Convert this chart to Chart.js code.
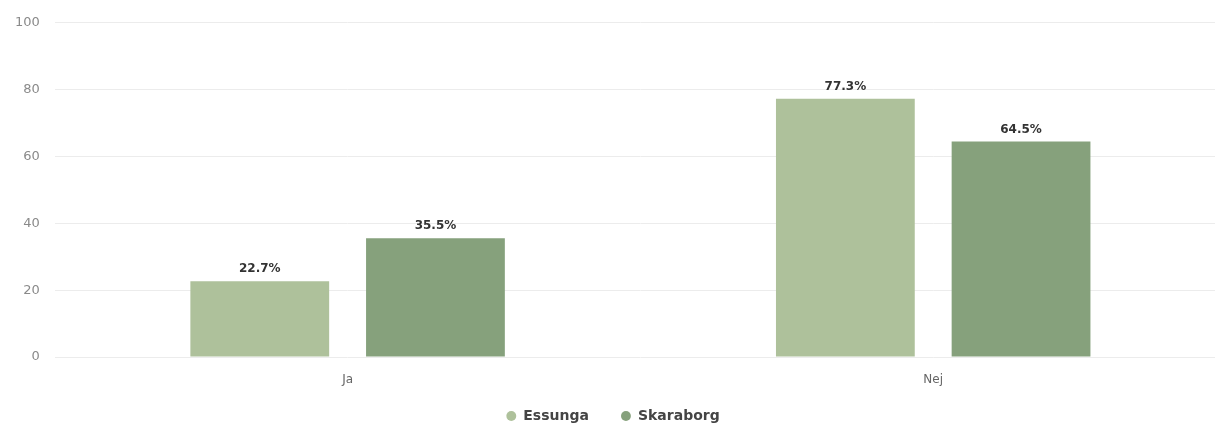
<!DOCTYPE html>
<html>
<head>
<meta charset="utf-8">
<script src="https://cdn.jsdelivr.net/npm/chart.js@4"></script>
<style>
  html, body { margin: 0; padding: 0; background: #fff; overflow: hidden; }
  #wrap { width: 1226px; height: 427px; }
</style>
</head>
<body>
<div id="wrap"><canvas id="chart"></canvas></div>
<script>
const categories = ['Ja', 'Nej'];
const seriesNames = ['Essunga', 'Skaraborg'];
const essungaValues = [22.7, 77.3];
const skaraborgValues = [35.5, 64.5];
const yTicks = [0, 20, 40, 60, 80, 100];

const colors = ['#aec19b', '#86a17c'];
const fontFamily = '"DejaVu Sans", sans-serif';

// draws the percent label above each bar
const barLabels = {
    id: 'barLabels',
    afterDatasetsDraw(chart) {
        const ctx = chart.ctx;
        ctx.save();
        ctx.font = 'bold 12px ' + fontFamily;
        ctx.fillStyle = '#333';
        ctx.textAlign = 'center';
        ctx.textBaseline = 'bottom';
        chart.data.datasets.forEach((ds, i) => {
            chart.getDatasetMeta(i).data.forEach((bar, j) => {
                ctx.fillText(ds.data[j].toFixed(1) + '%', bar.x, bar.y - 6);
            });
        });
        ctx.restore();
    }
};

// the legend needs wide gaps between items but little height,
// so lift it a bit after layout
const liftLegend = {
    id: 'liftLegend',
    afterLayout(chart) {
        chart.legend.top -= 10;
    }
};

new Chart(document.getElementById('chart'), {
    type: 'bar',
    data: {
        labels: categories,
        datasets: [
            { label: seriesNames[0], data: essungaValues, backgroundColor: colors[0] },
            { label: seriesNames[1], data: skaraborgValues, backgroundColor: colors[1] }
        ]
    },
    options: {
        responsive: true,
        maintainAspectRatio: false,
        animation: false,
        categoryPercentage: 0.6,
        barPercentage: 0.79,
        layout: { padding: { top: 8, left: 0, right: 0, bottom: 0 } },
        scales: {
            x: {
                grid: { display: false, drawTicks: false },
                border: { display: false },
                ticks: { color: '#666', font: { family: fontFamily, size: 12 }, padding: 16 },
                afterFit: axis => { axis.height = 30; }
            },
            y: {
                min: 0,
                max: 100,
                afterBuildTicks: axis => { axis.ticks = yTicks.map(v => ({ value: v })); },
                grid: { color: '#ececec', drawTicks: false },
                border: { display: false },
                ticks: { color: '#8a8a8a', font: { family: fontFamily, size: 13 }, padding: 15 }
            }
        },
        plugins: {
            legend: {
                position: 'bottom',
                maxHeight: 40,
                labels: {
                    usePointStyle: true,
                    pointStyle: 'circle',
                    boxWidth: 10,
                    boxHeight: 7,
                    padding: 32,
                    color: '#444',
                    font: { family: fontFamily, size: 14, weight: 'bold' }
                }
            },
            tooltip: { enabled: false }
        }
    },
    plugins: [barLabels, liftLegend]
});
</script>
</body>
</html>
